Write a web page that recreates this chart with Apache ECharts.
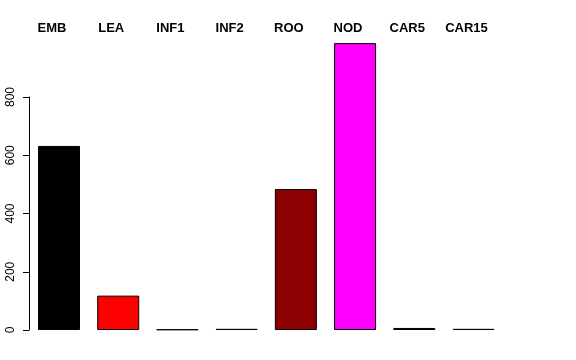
<!DOCTYPE html>
<html>
<head>
<meta charset="utf-8">
<script src="https://cdn.jsdelivr.net/npm/echarts@6/dist/echarts.min.js"></script>
<style>html,body{margin:0;padding:0;background:#fff}#c{width:576px;height:360px}</style>
</head>
<body>
<div id="c"></div>
<script>
var categories = ["EMB", "LEA", "INF1", "INF2", "ROO", "NOD", "CAR5", "CAR15"];
var values = [632, 118, 2, 4, 484, 985, 7, 4];
var colors = ["#000000", "#ff0000", "#000000", "#000080", "#8b0000", "#ff00ff", "#00008b", "#006400"];
var yTicks = [0, 200, 400, 600, 800];

var chart = echarts.init(document.getElementById('c'), null, {renderer: 'canvas'});
var font = '"Liberation Sans", Arial, Helvetica, sans-serif';
chart.setOption({
  animation: false,
  backgroundColor: '#ffffff',
  grid: [
    {left: 29.4, right: 72.9, top: 38.75, bottom: 30, containLabel: false},
    {left: 29, right: 72.9, top: 97, bottom: 30, containLabel: false}
  ],
  xAxis: [
    {
      gridIndex: 0, type: 'category', data: categories, position: 'top',
      axisLine: {show: false}, axisTick: {show: false},
      axisLabel: {color: '#000', fontFamily: font, fontWeight: 'bold', fontSize: 13, margin: 4, interval: 0,
        padding: [0, 14, 0, 0]}
    },
    {gridIndex: 1, type: 'value', show: false, min: 0, max: 1}
  ],
  yAxis: [
    {gridIndex: 0, type: 'value', min: 0, max: 1000, show: false},
    {
      gridIndex: 1, type: 'value', min: yTicks[0], max: yTicks[yTicks.length - 1], interval: 200,
      axisLine: {show: true, lineStyle: {color: '#000', width: 1}},
      axisTick: {show: true, length: 6, lineStyle: {color: '#000'}},
      splitLine: {show: false},
      axisLabel: {color: '#000', fontFamily: font, fontSize: 12, rotate: 90, margin: 12,
        formatter: function (v) { return yTicks.indexOf(v) >= 0 ? String(v) : ''; }}
    }
  ],
  series: [
    {
      type: 'bar', xAxisIndex: 0, yAxisIndex: 0, barWidth: 42,
      data: values.map(function (v, i) {
        return {value: v, itemStyle: {color: colors[i], borderColor: '#000', borderWidth: 1}};
      })
    }
  ]
});
</script>
</body>
</html>
